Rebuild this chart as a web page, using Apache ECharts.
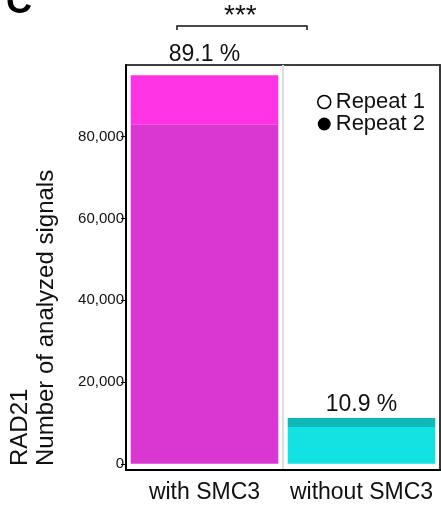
<!DOCTYPE html>
<html>
<head>
<meta charset="utf-8">
<script src="https://cdn.jsdelivr.net/npm/echarts@6/dist/echarts.min.js"></script>
<style>html,body{margin:0;padding:0;background:#fff}#c{width:441px;height:510px}</style>
</head>
<body>
<div id="c"></div>
<script>
// ---- data ----
const categories = ['with SMC3', 'without SMC3'];
const repeat2Values = [83000, 9000];   // lower part of each column
const repeat1Values = [12000, 2200];   // upper part of each column
const percentLabels = ['89.1 %', '10.9 %'];
const yTickValues = [0, 20000, 40000, 60000, 80000];
const lowerColors = ['#d936d2', '#12e2e2'];
const upperColors = ['#ff33e3', '#0fb9b9'];
const labelDistances = [9, 2];

const FONT = '"Liberation Sans", Arial, sans-serif';
const chart = echarts.init(document.getElementById('c'));

chart.setOption({
  animation: false,
  textStyle: { fontFamily: FONT },
  grid: { left: 126, right: 1, top: 65, bottom: 40, show: true, borderColor: '#000', borderWidth: 1.5 },
  legend: {
    orient: 'vertical', left: 312, top: 86, itemGap: 0, itemWidth: 13, itemHeight: 13, itemGap: 0,
    textStyle: { fontSize: 22, color: '#111', fontFamily: FONT },
    data: [
      { name: 'Repeat 1', icon: 'circle', itemStyle: { color: '#fff', borderColor: '#000', borderWidth: 1.5 } },
      { name: 'Repeat 2', icon: 'circle', itemStyle: { color: '#000', borderWidth: 0 } }
    ]
  },
  xAxis: {
    type: 'category', data: categories,
    axisLine: { onZero: false, lineStyle: { color: '#000', width: 2 } },
    axisTick: { show: false },
    axisLabel: { interval: 0, fontSize: 23, color: '#111', margin: 11, fontFamily: FONT },
    splitLine: { show: true, interval: 0, lineStyle: { color: '#dcdcdc', width: 2 } }
  },
  yAxis: [
    {
      type: 'value', min: -1500, max: 97500,
      axisLine: { show: true, onZero: false, lineStyle: { color: '#000', width: 2 } },
      axisTick: { show: true, length: 5, customValues: yTickValues, lineStyle: { color: '#000', width: 1 } },
      axisLabel: {
        fontSize: 15, color: '#111', margin: 2, fontFamily: FONT, customValues: yTickValues,
        formatter: (v) => v.toLocaleString('en-US')
      },
      splitLine: { show: false }
    },
    {
      type: 'value', min: -1500, max: 97500, position: 'right',
      axisLine: { show: true, onZero: false, lineStyle: { color: '#000', width: 1.5 } },
      axisTick: { show: false }, axisLabel: { show: false }, splitLine: { show: false }
    }
  ],
  series: [
    {
      name: 'Repeat 2', type: 'bar', stack: 'n', barWidth: '94%',
      data: repeat2Values.map((v, i) => ({ value: v, itemStyle: { color: lowerColors[i] } }))
    },
    {
      name: 'Repeat 1', type: 'bar', stack: 'n', barWidth: '94%',
      data: repeat1Values.map((v, i) => ({
        value: v, itemStyle: { color: upperColors[i] },
        label: { distance: labelDistances[i] }
      })),
      label: {
        show: true, position: 'top', fontSize: 23, color: '#111', fontFamily: FONT,
        formatter: (p) => percentLabels[p.dataIndex]
      }
    }
  ],
  graphic: [
    { type: 'text', left: 6, top: -15, style: { text: 'C', fontSize: 36, fontWeight: 'bold', fill: '#000', fontFamily: FONT } },
    { type: 'text', left: 224, top: 2, style: { text: '***', fontSize: 28, fill: '#111', fontFamily: FONT } },
    { type: 'polyline', shape: { points: [[177, 30], [177, 26], [307, 26], [307, 30]] }, style: { stroke: '#111', lineWidth: 1.5, fill: null } },
    { type: 'text', x: 32, y: 466, rotation: Math.PI / 2, style: { text: 'RAD21', fontSize: 24, fill: '#111', fontFamily: FONT, textAlign: 'left', textVerticalAlign: 'bottom' } },
    { type: 'text', x: 58, y: 466, rotation: Math.PI / 2, style: { text: 'Number of analyzed signals', fontSize: 24, fill: '#111', fontFamily: FONT, textAlign: 'left', textVerticalAlign: 'bottom' } }
  ]
});
</script>
</body>
</html>
